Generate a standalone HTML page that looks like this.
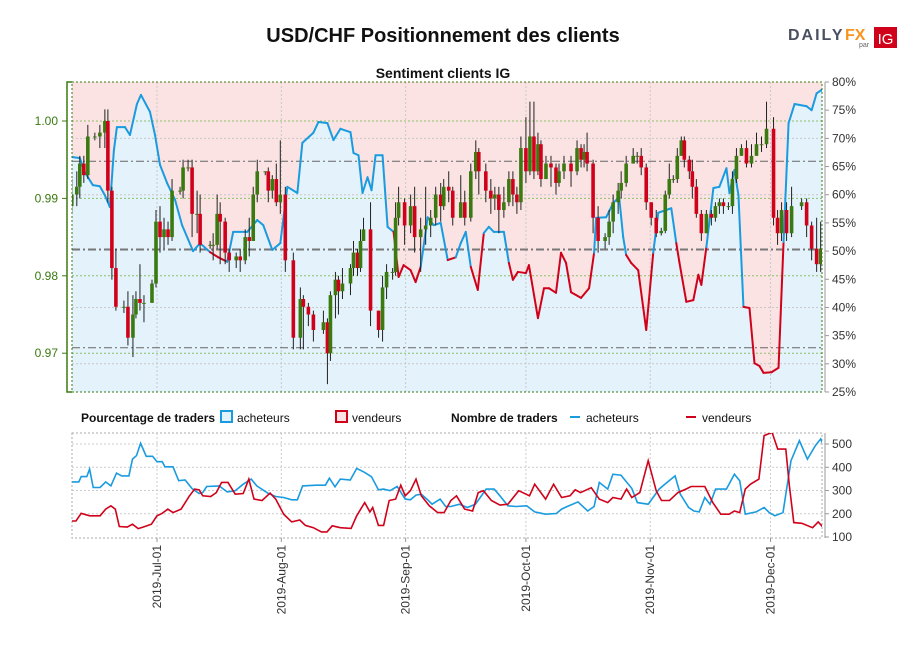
<!DOCTYPE html>
<html><head><meta charset="utf-8"><style>
body{margin:0;background:#fff;width:900px;height:650px;overflow:hidden;font-family:"Liberation Sans Narrow","Liberation Sans",sans-serif;}
svg{display:block}
</style></head><body>
<svg id="chart" width="900" height="650" viewBox="0 0 900 650" xmlns="http://www.w3.org/2000/svg">
<text x="443" y="42" text-anchor="middle" font-family="Liberation Sans, sans-serif" font-weight="bold" font-size="20" fill="#111">USD/CHF Positionnement des clients</text>
<g>
<text x="788" y="40" font-family="Liberation Sans, sans-serif" font-weight="bold" font-size="16" letter-spacing="2" fill="#4a5060">DAILY</text>
<text x="845" y="40" font-family="Liberation Sans, sans-serif" font-weight="bold" font-size="16" fill="#f7931e">FX</text>
<text x="859" y="47" font-family="Liberation Sans, sans-serif" font-size="7" fill="#666">par</text>
<rect x="874" y="27" width="23" height="21" fill="#d0021b"/>
<text x="885.5" y="44" text-anchor="middle" font-family="Liberation Sans, sans-serif" font-size="15" fill="#fff">IG</text>
</g>
<text x="443" y="78" text-anchor="middle" font-family="Liberation Sans, sans-serif" font-weight="bold" font-size="14" fill="#111">Sentiment clients IG</text>
<defs><clipPath id="cp"><rect x="72" y="82" width="750" height="310"/></clipPath>
<clipPath id="cp2"><rect x="72" y="433" width="750" height="105"/></clipPath></defs>
<g id="main"></g>
<g id="legend" font-size="12" fill="#111">
<text x="81" y="422" font-weight="bold">Pourcentage de traders</text>
<rect x="221" y="411" width="11" height="11" fill="#e3f2fb" stroke="#1a9be0" stroke-width="2"/>
<text x="237" y="422">acheteurs</text>
<rect x="336" y="411" width="11" height="11" fill="#fbe3e3" stroke="#d0021b" stroke-width="2"/>
<text x="352" y="422">vendeurs</text>
<text x="451" y="422" font-weight="bold">Nombre de traders</text>
<line x1="570" y1="417" x2="580" y2="417" stroke="#1a9be0" stroke-width="2"/>
<text x="586" y="422">acheteurs</text>
<line x1="686" y1="417" x2="696" y2="417" stroke="#d0021b" stroke-width="2"/>
<text x="702" y="422">vendeurs</text>
</g>
<g id="bottom"></g>
</svg>
<script>
// ---- data ----
// days are offsets from 2019-07-01
const monthLabels = ["2019-Jul-01","2019-Aug-01","2019-Sep-01","2019-Oct-01","2019-Nov-01","2019-Dec-01"];
const monthDays = [0,31,62,92,123,153];
const priceTicks = [0.97,0.98,0.99,1.00];
const pctTicks = [25,30,35,40,45,50,55,60,65,70,75,80];
const countTicks = [100,200,300,400,500];
const refLevels = [0.9948,0.9834,0.9707];
const firstOpen = 0.989;
const candleDays = [-21.25,-20,-19.25,-18.25,-17.25,-15.5,-14.25,-13,-12.25,-11.25,-10.25,-8.25,-7.25,-6,-5.25,-4.25,-3.25,-1.25,-0.25,0.75,1.75,2.75,3.75,5.75,6.5,7.75,8.75,10,10.75,13.25,14,15,15.75,17,18,19.75,20.75,22,23,24,25,27,27.75,28.75,29.75,30.75,32,34,35.75,36.5,37.75,39,41.5,42.5,43.25,44.5,45.25,46.25,48.25,49,50,50.75,51.5,53.25,55.25,56.25,57.25,58.75,59.5,60.25,61.75,63.25,64.25,65.75,67,68.25,69.5,70.75,71.5,72.75,73.75,75.75,76.75,78.25,79.5,80.25,82,83.25,84.25,85.25,86.5,87.75,88.75,89.75,90.75,92,93,94,95,95.75,97,98.25,99.5,100.25,101.5,103.25,104.75,105.75,106.5,107.25,108.75,110,111.75,112.75,113.75,115,115.75,117,118.75,119.75,120.75,122,123.25,124.5,125.75,126.75,127.75,128.75,129.75,130.75,131.5,132.75,133.5,134.5,135.75,137,138.25,139.25,140.25,141.25,142.5,143.5,144.5,145.75,147,148.25,149.5,150.75,152,153.75,154.75,155.75,157,158.25,160.75,162,163.25,164.5,165.5,166.25];
const closes = [0.9905,0.9915,0.9945,0.993,0.998,0.998,0.9985,1.0,0.991,0.981,0.976,0.976,0.972,0.975,0.977,0.9765,0.9765,0.979,0.987,0.985,0.986,0.985,0.991,0.991,0.994,0.994,0.988,0.988,0.984,0.984,0.984,0.988,0.987,0.983,0.982,0.9825,0.982,0.985,0.9845,0.9905,0.9935,0.9935,0.991,0.9925,0.9895,0.9905,0.982,0.972,0.977,0.976,0.975,0.973,0.974,0.970,0.9775,0.9795,0.978,0.979,0.981,0.983,0.981,0.9845,0.986,0.9755,0.973,0.9785,0.9805,0.9805,0.9875,0.9895,0.9865,0.989,0.985,0.986,0.9865,0.9875,0.9905,0.989,0.9915,0.991,0.9875,0.9895,0.9875,0.9935,0.996,0.9935,0.991,0.990,0.9905,0.9885,0.9895,0.9925,0.9905,0.9895,0.9965,0.9935,0.998,0.9935,0.997,0.9925,0.9945,0.994,0.992,0.9935,0.9945,0.9935,0.9965,0.995,0.996,0.9945,0.9875,0.9845,0.985,0.987,0.9895,0.991,0.992,0.9945,0.9955,0.9955,0.994,0.9895,0.9875,0.9855,0.9858,0.9905,0.9925,0.9925,0.9955,0.9975,0.995,0.9935,0.9915,0.988,0.9855,0.988,0.9875,0.989,0.9895,0.989,0.989,0.9925,0.9955,0.9965,0.9945,0.9955,0.997,0.997,0.999,0.9875,0.9855,0.9885,0.9855,0.989,0.9895,0.9865,0.9835,0.9815,0.9835,0.9815];
const highs = [0.9925,0.9935,0.9955,0.9955,0.9995,0.9985,0.9995,1.0015,1.0015,0.9915,0.9835,0.9768,0.978,0.9775,0.978,0.9815,0.9775,0.9795,0.9885,0.989,0.9875,0.987,0.9925,0.9915,0.995,0.995,0.995,0.991,0.9905,0.9845,0.9855,0.9905,0.9895,0.9875,0.9835,0.983,0.9835,0.986,0.9875,0.9915,0.995,0.9935,0.994,0.993,0.9945,0.9975,0.9915,0.983,0.9785,0.9775,0.9765,0.9755,0.9755,0.9745,0.978,0.9805,0.980,0.981,0.9815,0.9845,0.9835,0.986,0.9875,0.9895,0.9755,0.980,0.9815,0.981,0.9895,0.9915,0.990,0.9905,0.9915,0.9875,0.9915,0.9885,0.9915,0.992,0.9925,0.9935,0.9915,0.993,0.991,0.9945,0.9975,0.9965,0.9945,0.9925,0.9915,0.9915,0.9915,0.9935,0.9935,0.9915,0.998,1.0005,1.0025,1.0025,0.9985,0.9975,0.9955,0.9955,0.9945,0.9945,0.9955,0.9955,0.9975,0.997,0.997,0.9985,0.995,0.989,0.9855,0.9885,0.9905,0.992,0.9935,0.9955,0.9965,0.996,0.9965,0.9945,0.9895,0.9885,0.9862,0.991,0.9945,0.993,0.9965,0.998,0.998,0.9955,0.995,0.9925,0.9885,0.9885,0.9885,0.9895,0.990,0.990,0.9895,0.9935,0.9965,0.997,0.9975,0.997,0.9985,0.998,1.0025,1.0005,0.9885,0.9895,0.9895,0.9915,0.990,0.990,0.987,0.9875,0.987,0.986];
const lows = [0.988,0.989,0.990,0.992,0.9925,0.9975,0.9965,0.9965,0.9895,0.9795,0.9755,0.9752,0.971,0.9695,0.9745,0.9755,0.974,0.977,0.9785,0.983,0.9835,0.984,0.9845,0.9905,0.990,0.9935,0.985,0.9855,0.983,0.9835,0.982,0.9835,0.9815,0.9815,0.9805,0.981,0.9805,0.9815,0.9825,0.9845,0.9895,0.993,0.9895,0.990,0.989,0.988,0.9805,0.9705,0.9705,0.9705,0.9735,0.9715,0.9725,0.966,0.969,0.9745,0.975,0.977,0.9775,0.980,0.980,0.9805,0.9845,0.9735,0.972,0.9715,0.977,0.9795,0.980,0.9865,0.984,0.9855,0.983,0.9805,0.984,0.985,0.9865,0.987,0.9885,0.9895,0.9865,0.9875,0.9865,0.987,0.9925,0.9905,0.9895,0.988,0.9885,0.9855,0.9875,0.989,0.989,0.988,0.9885,0.992,0.993,0.9925,0.993,0.9915,0.9925,0.9915,0.9905,0.9915,0.9925,0.9915,0.993,0.994,0.994,0.9935,0.9855,0.983,0.9835,0.984,0.9855,0.988,0.990,0.9915,0.9945,0.9945,0.993,0.9885,0.9865,0.985,0.9852,0.9855,0.990,0.992,0.992,0.9955,0.994,0.9925,0.990,0.9875,0.9845,0.9855,0.9865,0.987,0.988,0.988,0.9885,0.988,0.992,0.9955,0.994,0.994,0.9955,0.996,0.9965,0.9865,0.984,0.9845,0.9845,0.985,0.9885,0.985,0.982,0.9805,0.9805,0.981];
const sentDays = [-21.25,-19.25,-18,-16,-14.25,-13,-11.75,-10.75,-10,-8,-6.75,-5,-4,-1.75,-0.5,0.75,2.5,4.5,6.25,9,10.75,13.25,15.25,17.5,19,22.5,25,26.5,28.75,30.75,32.5,35,36.25,39,40.25,42.5,44,45.75,48.25,49,50.25,51.25,52.5,53.5,54.5,56.25,57.5,59,60.25,61.5,63.25,64.5,65.75,67.5,69,70.75,72.5,74.5,75.75,77,78.25,80,81.5,82.75,84,86.5,87.75,88.75,90,92,92.75,95,96.5,97.75,99.5,100.75,102,103.25,105.75,107.75,109,109.5,112,113.75,115.25,116.25,117,118.25,120,122,123.75,125,128.25,129.5,130.25,132,133.75,135,135.75,137,138.75,140.25,142,142.75,144,145,146.25,147.75,149,150.25,151.25,153.25,155,156.25,157.5,159,162,163.25,164.5,165.75,166.25];
const buyerPct = [66.7,66.5,64.0,61.7,61.5,59.9,57.8,67.9,72.0,72.0,70.6,76.1,77.7,74.7,70.6,65.3,62.1,59.1,54.6,50.0,51.4,49.8,48.9,48.1,53.4,53.4,55.5,54.6,50.2,51.4,61.4,60.3,69.2,71.0,72.9,72.7,69.7,71.7,71.1,67.4,67.0,60.3,63.1,60.8,67.0,67.0,54.3,53.4,45.4,47.5,46.6,44.5,47.2,56.0,54.6,55.0,48.4,48.9,51.4,53.4,47.2,43.1,53.2,54.3,53.4,53.4,47.9,44.9,46.3,46.1,47.5,38.1,43.4,43.4,42.6,49.7,47.9,42.7,41.7,43.4,49.7,55.9,56.0,58.5,59.6,52.5,49.3,47.9,46.6,36.0,49.7,56.8,57.6,51.4,48.1,41.0,41.3,45.8,44.0,50.7,61.2,61.4,64.7,60.3,64.4,59.9,40.1,39.9,30.1,29.6,28.4,28.5,29.3,51.6,72.7,76.1,75.7,75.0,78.0,78.6,77.7];
const buyerDays = [-21.6,-19.5,-18.9,-17.5,-16.8,-15.9,-14.2,-12.8,-11.5,-10.1,-8.8,-7.0,-6.1,-5.1,-4.1,-2.7,-1.1,0,1.3,2.0,4.0,5.4,7.0,8.7,10.5,11.4,12.4,15.5,17.5,19.5,21.5,23.5,24.9,27.6,29.6,31.6,33.6,35.0,36.3,39.7,42.0,43.0,44.4,45.7,48.2,49.8,51.8,53.5,55.2,56.5,58.1,59.9,61.9,63.2,64.6,65.9,67.3,68.6,70.6,72.0,73.3,75.4,77.4,79.4,82.1,84.1,85.5,87.5,89.5,92.2,94.2,96.9,99.6,100.9,102.3,105.0,107.4,109.0,110.3,112.4,113.7,115.7,118.4,119.8,122.5,125.2,127.2,129.2,130.5,132.6,133.9,135.2,136.6,137.9,139.3,142.0,144.0,145.3,146.7,149.4,151.4,152.7,154.1,156.1,158.1,160.2,162.2,164.2,165.5,167.2];
const buyerCount = [337,337,360,360,392,313,313,337,320,375,363,363,435,450,503,447,447,424,424,402,402,342,345,309,287,291,317,320,294,299,327,349,320,289,274,270,260,260,320,323,323,353,316,349,345,395,378,359,303,306,299,317,263,260,280,284,263,241,263,231,231,241,227,241,306,306,277,234,231,234,208,198,201,220,231,251,212,231,335,306,370,366,309,248,241,306,335,363,284,227,212,208,270,241,306,306,370,342,198,208,227,205,191,205,428,514,435,493,522,450];
const sellerDays = [-21.6,-20.2,-18.9,-16.8,-14.2,-12.8,-11.5,-10.4,-9.4,-7.4,-6.1,-4.7,-3.4,-1.4,0,1.3,2.7,4.0,6.0,8.1,9.4,10.5,11.4,13.4,14.8,16.1,17.7,19.5,21.5,22.9,24.2,26.2,28.2,29.6,31.6,33.6,35.6,37.0,39.0,41.0,42.4,43.7,45.7,48.4,49.8,51.8,53.1,53.8,55.2,56.5,57.9,59.5,60.8,61.9,63.2,64.6,65.9,67.9,70.0,71.6,73.3,74.7,76.7,78.7,80.1,81.4,83.4,85.5,87.5,90.2,92.9,94.2,96.9,98.9,100.9,103.0,104.3,105.6,108.3,110.3,112.4,113.7,115.7,117.1,118.4,120.4,122.5,124.5,125.8,127.8,129.9,131.9,133.2,136.6,138.6,140.6,142.7,144.0,145.3,146.7,148.0,150.1,151.4,153.4,154.8,156.8,157.7,158.8,160.8,163.5,164.9,166.2,167.2];
const sellerCount = [169,169,202,191,191,220,234,220,145,143,155,136,143,155,191,202,220,205,220,277,306,303,277,274,291,335,335,284,287,349,263,257,289,263,198,165,173,150,140,122,122,148,140,137,191,248,208,227,150,150,257,263,323,277,299,349,277,234,205,205,257,277,220,212,291,299,257,237,241,299,277,327,263,327,270,277,303,291,312,263,248,270,263,306,270,291,428,299,257,257,291,306,317,317,248,198,198,212,205,306,327,349,536,550,478,478,320,162,159,140,165,140,126];

// ---- scales ----
const NS="http://www.w3.org/2000/svg";
const X0=72,X1=822,Y0=82,Y1=392,BY0=433,BY1=538;
const xDay=d=>157+d*4.01;
const yPrice=p=>121+(1.0-p)*7740;
const yPct=v=>82+(80-v)*5.636;
const yCount=c=>537-(c-100)*0.2325;
function mk(tag,attrs,parent){const e=document.createElementNS(NS,tag);for(const k in attrs)e.setAttribute(k,attrs[k]);parent.appendChild(e);return e;}
const main=document.getElementById('main'),bottom=document.getElementById('bottom');

// sentiment fill
const pts=sentDays.map((d,i)=>[xDay(d),yPct(buyerPct[i])]);
let ptxt=pts.map(p=>p[0].toFixed(1)+','+p[1].toFixed(1)).join(' ');
const bg=mk('rect',{x:X0,y:Y0,width:X1-X0,height:Y1-Y0,fill:'#fbe3e3'},main);


const fa=mk('polygon',{points:X0+','+Y1+' '+ptxt+' '+X1+','+Y1,fill:'#e3f2fb','clip-path':'url(#cp)'},main);



// grid
pctTicks.forEach(v=>{if(v%10===0&&v!==80&&v!==50){const g=mk('line',{x1:X0,x2:X1,y1:yPct(v),y2:yPct(v),stroke:'#c8c8c8','stroke-dasharray':'2,2'},main);}});
priceTicks.forEach(v=>{const g=mk('line',{x1:X0,x2:X1,y1:yPrice(v),y2:yPrice(v),stroke:'#8cc06a','stroke-dasharray':'2,2'},main);});
monthDays.forEach(d=>{const g=mk('line',{x1:xDay(d),x2:xDay(d),y1:Y0,y2:Y1,stroke:'#c8c8c8','stroke-dasharray':'2,2'},main);});
refLevels.forEach((v,i)=>{const g=mk('line',{x1:X0,x2:X1,y1:yPrice(v),y2:yPrice(v),stroke:i===1?'#777':'#666','stroke-width':i===1?2:1,'stroke-dasharray':'8,3,2,3'},main);});

// sentiment line
for(let i=0;i<pts.length-1;i++){
  const a=buyerPct[i],b=buyerPct[i+1];
  const col=(a+b)/2>=50?'#1a9be0':'#d0021b';
  const s=mk('line',{x1:pts[i][0],y1:pts[i][1],x2:pts[i+1][0],y2:pts[i+1][1],stroke:col,'stroke-width':2,'stroke-linecap':'round','clip-path':'url(#cp)'},main);
  
  
}

// candles
const nC=Math.min(candleDays.length,closes.length,highs.length,lows.length);
for(let i=0;i<nC;i++){
  const o=i===0?firstOpen:closes[i-1],c=closes[i];
  const x=xDay(candleDays[i]);
  const w=mk('line',{x1:x,x2:x,y1:yPrice(highs[i]),y2:yPrice(lows[i]),stroke:'#222','stroke-width':1,'clip-path':'url(#cp)'},main);
  
  
  const top=yPrice(Math.max(o,c)),h=Math.max(1,Math.abs(yPrice(o)-yPrice(c)));
  const r=mk('rect',{x:x-1.8,y:top,width:3.6,height:h,fill:c>=o?'#3a7a10':'#d0021b','clip-path':'url(#cp)'},main);
  
  
}

// frame
const fr=mk('rect',{x:X0,y:Y0,width:X1-X0,height:Y1-Y0,fill:'none',stroke:'#3a7a10','stroke-dasharray':'2,2'},main);


const la=mk('path',{d:`M72,${Y0} H67 V${Y1} H72`,fill:'none',stroke:'#3a7a10','stroke-width':1.5},main);


priceTicks.forEach(v=>{
  mk('line',{x1:62,x2:67,y1:yPrice(v),y2:yPrice(v),stroke:'#3a7a10'},main);
  const t=mk('text',{x:58,y:yPrice(v)+4,'text-anchor':'end','font-size':12,fill:'#3a7a10'},main);
  t.textContent=v.toFixed(2);
  
  
});
const ra=mk('line',{x1:825,x2:825,y1:Y0,y2:Y1,stroke:'#999'},main);


pctTicks.forEach(v=>{
  mk('line',{x1:825,x2:829,y1:yPct(v),y2:yPct(v),stroke:'#999'},main);
  const t=mk('text',{x:832,y:yPct(v)+4,'font-size':12,fill:'#333'},main);
  t.textContent=v+'%';
  
  
});

// bottom chart
const bf=mk('rect',{x:X0,y:BY0,width:X1-X0,height:BY1-BY0,fill:'none',stroke:'#aaa','stroke-dasharray':'2,2'},bottom);


countTicks.forEach(v=>{
  if(v>100){const g=mk('line',{x1:X0,x2:X1,y1:yCount(v),y2:yCount(v),stroke:'#ccc','stroke-dasharray':'2,2'},bottom);}
  mk('line',{x1:825,x2:829,y1:yCount(v),y2:yCount(v),stroke:'#999'},bottom);
  const t=mk('text',{x:832,y:yCount(v)+4,'font-size':12,fill:'#333'},bottom);
  t.textContent=v;
  
  
});
mk('line',{x1:825,x2:825,y1:BY0,y2:BY1,stroke:'#999'},bottom);
monthDays.forEach((d,i)=>{
  const g=mk('line',{x1:xDay(d),x2:xDay(d),y1:BY0,y2:BY1,stroke:'#ccc','stroke-dasharray':'2,2'},bottom);
  
  
  mk('line',{x1:xDay(d),x2:xDay(d),y1:BY1,y2:BY1+4,stroke:'#999'},bottom);
  const t=mk('text',{x:0,y:0,'text-anchor':'end','font-size':12,fill:'#333',transform:`translate(${xDay(d)+4},545) rotate(-90)`},bottom);
  t.textContent=monthLabels[i];
  
  
});
function line(days,vals,col,name){
  const n=Math.min(days.length,vals.length);
  const p=[];for(let i=0;i<n;i++)p.push(xDay(days[i]).toFixed(1)+','+yCount(vals[i]).toFixed(1));
  const l=mk('polyline',{points:p.join(' '),fill:'none',stroke:col,'stroke-width':1.6,'clip-path':'url(#cp2)'},bottom);
  
  
}
line(buyerDays,buyerCount,'#1a9be0','buyers-count-line');
line(sellerDays,sellerCount,'#d0021b','sellers-count-line');
</script>
</body></html>
